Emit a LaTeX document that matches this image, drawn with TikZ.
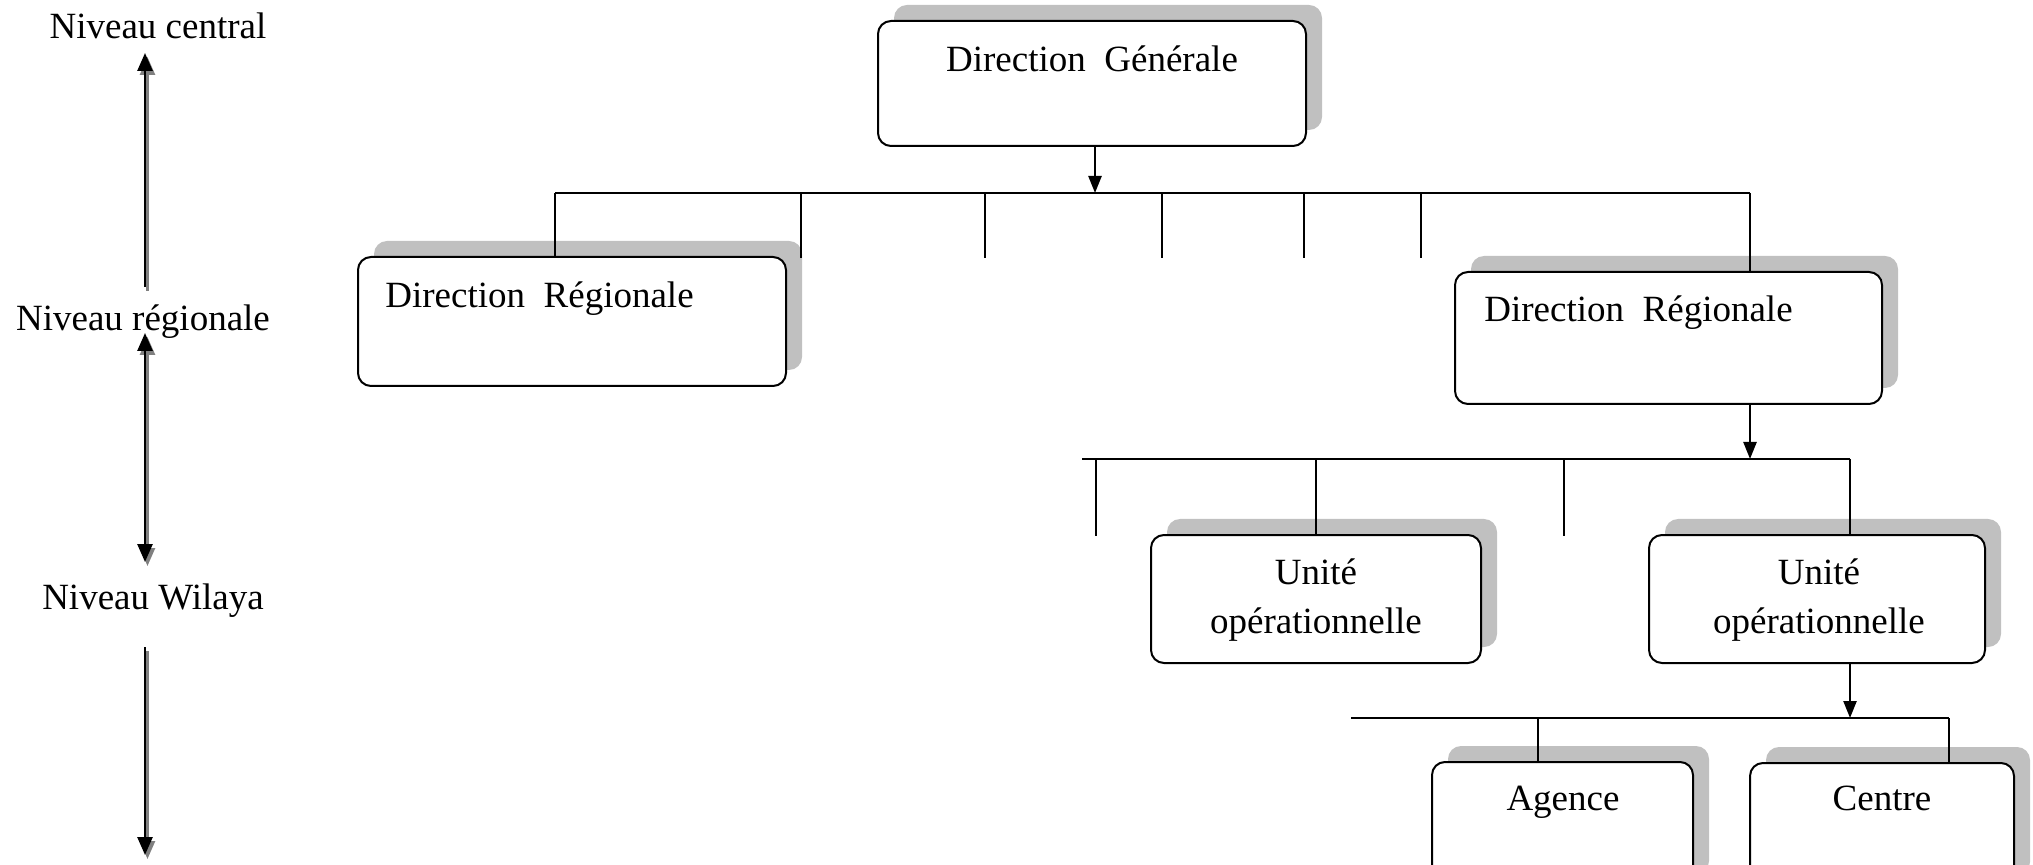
\documentclass[tikz,border=0pt]{standalone}
\usepackage{fontspec}
\setmainfont{Liberation Serif}
\usetikzlibrary{arrows.meta,shadows}
\definecolor{shadowgray}{RGB}{192,192,192}
\begin{document}
\begin{tikzpicture}[x=0.5pt,y=-0.5pt,
  >={Triangle[length=9pt,width=7.5pt]},
  orgbox/.style={draw=black, line width=1pt, rounded corners=6.5pt, fill=white,
    inner sep=0pt, general shadow={fill=shadowgray, shadow xshift=8pt, shadow yshift=8pt}},
  lbl/.style={font=\fontsize{18.5}{24.5}\selectfont, inner sep=0pt},
  link/.style={line width=0.8pt},
  arr/.style={line width=1.2pt, -{Triangle[length=8.5pt,width=6.5pt]}},
  lvlline/.style={line width=1.3pt},
  lvlshade/.style={line width=1.3pt, draw=gray, fill=gray,
    transform canvas={xshift=1.25pt, yshift=-2pt}}]
\useasboundingbox (0,0) rectangle (2033,865);
\clip (0,0) rectangle (2033,865);

% ---- boxes of the organisation chart ----
\node[orgbox, minimum width=214pt,   minimum height=62.5pt] (dg)  at (1092,83.5)  {};
\node[orgbox, minimum width=214pt,   minimum height=64.5pt] (dr1) at (572,321.5)  {};
\node[orgbox, minimum width=213.5pt, minimum height=66pt]   (dr2) at (1668.5,338) {};
\node[orgbox, minimum width=165pt,   minimum height=64pt]   (u1)  at (1316,599)   {};
\node[orgbox, minimum width=168pt,   minimum height=64pt]   (u2)  at (1817,599)   {};
\node[orgbox, minimum width=130.5pt, minimum height=64pt]   (ag)  at (1562.5,826) {};
\node[orgbox, minimum width=132pt,   minimum height=64pt]   (ce)  at (1882,827)   {};

% ---- box texts ----
\node[lbl, anchor=base]      (tdg)  at (1092,72)  {Direction\ \ Générale};
\node[lbl, anchor=base west] (tdr1) at (385,308)  {Direction\ \ Régionale};
\node[lbl, anchor=base west] (tdr2) at (1484,322) {Direction\ \ Régionale};
\node[lbl, anchor=base, align=center] (tu1) at (1316,633) {Unité\\opérationnelle};
\node[lbl, anchor=base, align=center] (tu2) at (1819,633) {Unité\\opérationnelle};
\node[lbl, anchor=base] (tag) at (1563,810) {Agence};
\node[lbl, anchor=base] (tce) at (1882,810) {Centre};

% ---- first level bus ----
\coordinate (b1L) at (555,193);
\coordinate (b1R) at (1750,193);
\coordinate (b1a) at (1095,193);
\draw[link] (b1L) -- (b1R);
\draw[arr] (dg.south -| b1a) -- (b1a);
\draw[link] (b1L) -- (dr1.north -| b1L);
\draw[link] (b1R) -- (dr2.north -| b1R);
\foreach \x in {801,985,1162,1304,1421}
  \draw[link] (\x,193) -- (\x,258);

% ---- second level bus ----
\coordinate (b2L) at (1082,459);
\coordinate (b2R) at (1850,459);
\coordinate (b2a) at (1750,459);
\coordinate (b2u) at (1316,459);
\draw[link] (b2L) -- (b2R);
\draw[arr] (dr2.south -| b2a) -- (b2a);
\draw[link] (b2u) -- (u1.north);
\draw[link] (b2R) -- (u2.north -| b2R);
\foreach \x in {1096,1564}
  \draw[link] (\x,459) -- (\x,536);

% ---- third level bus ----
\coordinate (b3L) at (1351,718);
\coordinate (b3R) at (1949,718);
\coordinate (b3a) at (1850,718);
\coordinate (b3g) at (1538,718);
\draw[link] (b3L) -- (b3R);
\draw[arr] (u2.south -| b3a) -- (b3a);
\draw[link] (b3g) -- (ag.north -| b3g);
\draw[link] (b3R) -- (ce.north -| b3R);

% ---- level scale on the left ----
\node[lbl, anchor=base] (lc) at (158,39)  {Niveau central};
\node[lbl, anchor=base] (lr) at (143,331) {Niveau régionale};
\node[lbl, anchor=base] (lw) at (153,609) {Niveau Wilaya};

\coordinate (a1t) at (145,53);  \coordinate (a1b) at (145,287);
\coordinate (a2t) at (145,333); \coordinate (a2b) at (145,562);
\coordinate (a3t) at (145,647); \coordinate (a3b) at (145,855);

% grey shading under the level arrows
\draw[lvlshade, ->] (a1b) -- (a1t);
\draw[lvlshade, <->] (a2t) -- (a2b);
\draw[lvlshade, ->] (a3t) -- (a3b);
% the level arrows
\draw[lvlline, ->] (a1b) -- (a1t);
\draw[lvlline, <->] (a2t) -- (a2b);
\draw[lvlline, ->] (a3t) -- (a3b);
\end{tikzpicture}
\end{document}
